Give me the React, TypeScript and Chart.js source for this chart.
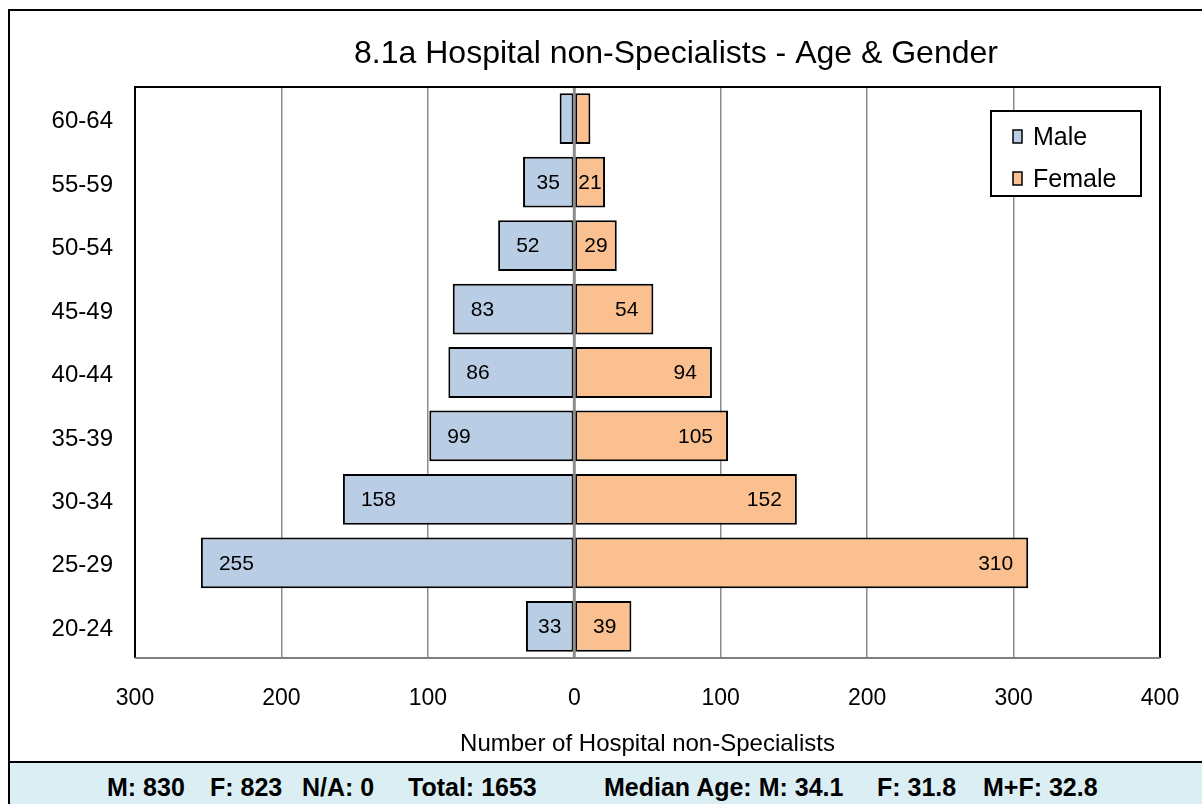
import React, { useEffect, useRef } from "react";
import { Chart, registerables } from "chart.js";

Chart.register(...registerables);

// ---- data ----
const AGE_GROUPS = ["20-24", "25-29", "30-34", "35-39", "40-44", "45-49", "50-54", "55-59", "60-64"];
const MALE = [33, 255, 158, 99, 86, 83, 52, 35, 10];
const FEMALE = [39, 310, 152, 105, 94, 54, 29, 21, 11];
const SERIES_NAMES = ["Male", "Female"];
const X_MIN = -300;
const X_MAX = 400;
const X_STEP = 100;
const CHART_TITLE = "8.1a Hospital non-Specialists - Age & Gender";
const X_TITLE = "Number of Hospital non-Specialists";
const FOOTER_ITEMS = ["M: 830", "F: 823", "N/A: 0", "Total: 1653", "Median Age: M: 34.1", "F: 31.8", "M+F: 32.8"];

// ---- style ----
const FONT = '"Liberation Sans", Arial, Helvetica, sans-serif';
const MALE_COLOR = "#B9CDE5";
const FEMALE_COLOR = "#FAC090";
const GRID_COLOR = "#8c8c8c";
const FOOTER_X = [107, 210, 302, 408, 604, 877, 983];

const overlayPlugin = {
  id: "overlay",
  afterDatasetsDraw(chart: any) {
    const { ctx, chartArea } = chart;
    const xs = chart.scales.x;
    const x0 = xs.getPixelForValue(0);
    ctx.save();
    // zero axis line
    ctx.strokeStyle = GRID_COLOR;
    ctx.lineWidth = 3;
    ctx.beginPath();
    ctx.moveTo(x0, chartArea.top);
    ctx.lineTo(x0, chartArea.bottom);
    ctx.stroke();

    // data labels
    ctx.font = `21px ${FONT}`;
    ctx.fillStyle = "#000";
    ctx.textBaseline = "middle";
    ctx.textAlign = "center";
    chart.data.datasets.forEach((ds: any, di: number) => {
      const meta = chart.getDatasetMeta(di);
      meta.data.forEach((bar: any, i: number) => {
        const v = ds.data[i];
        const txt = String(Math.abs(v));
        const { x, base, y } = bar.getProps(["x", "base", "y"], true);
        const left = Math.min(x, base);
        const right = Math.max(x, base);
        const w = right - left;
        const tw = ctx.measureText(txt).width;
        if (tw + 4 > w) return;
        const center = (left + right) / 2;
        const cx = v < 0 ? Math.min(left + 18 + tw / 2, center) : Math.max(right - 15 - tw / 2, center);
        ctx.fillText(txt, cx, y + 1);
      });
    });

    // plot area frame
    ctx.lineWidth = 2;
    ctx.strokeStyle = "#000";
    ctx.beginPath();
    ctx.moveTo(chartArea.left, chartArea.bottom);
    ctx.lineTo(chartArea.left, chartArea.top);
    ctx.lineTo(chartArea.right, chartArea.top);
    ctx.lineTo(chartArea.right, chartArea.bottom);
    ctx.stroke();
    ctx.strokeStyle = "#7f7f7f";
    ctx.beginPath();
    ctx.moveTo(chartArea.left, chartArea.bottom);
    ctx.lineTo(chartArea.right, chartArea.bottom);
    ctx.stroke();
    ctx.restore();
  },
  afterDraw(chart: any) {
    const { ctx, chartArea } = chart;
    ctx.save();
    // title
    ctx.font = `32px ${FONT}`;
    ctx.fillStyle = "#000";
    ctx.textAlign = "center";
    ctx.textBaseline = "middle";
    ctx.fillText(CHART_TITLE, 676, 54);

    // legend
    const bx = chartArea.right - 169;
    const by = chartArea.top + 24;
    const bw = 150;
    const bh = 85;
    ctx.fillStyle = "#fff";
    ctx.fillRect(bx, by, bw, bh);
    ctx.strokeStyle = "#000";
    ctx.lineWidth = 2;
    ctx.strokeRect(bx, by, bw, bh);
    ctx.font = `25px ${FONT}`;
    ctx.textAlign = "left";
    chart.data.datasets.forEach((ds: any, i: number) => {
      const cy = by + 25 + i * 42;
      ctx.fillStyle = ds.backgroundColor;
      ctx.fillRect(bx + 22, cy - 6, 9, 13);
      ctx.lineWidth = 1.5;
      ctx.strokeStyle = "#000";
      ctx.strokeRect(bx + 22, cy - 6, 9, 13);
      ctx.fillStyle = "#000";
      ctx.fillText(ds.label, bx + 42, cy + 2);
    });
    ctx.restore();
  },
};

export default function App() {
  const canvasRef = useRef<HTMLCanvasElement | null>(null);

  useEffect(() => {
    const canvas = canvasRef.current;
    if (!canvas) return;
    const chart = new Chart(canvas, {
      type: "bar",
      data: {
        labels: AGE_GROUPS,
        datasets: [
          {
            label: SERIES_NAMES[0],
            data: MALE.map((v) => -v),
            backgroundColor: MALE_COLOR,
            borderColor: "#000",
            borderWidth: 2,
            borderSkipped: false,
          },
          {
            label: SERIES_NAMES[1],
            data: FEMALE,
            backgroundColor: FEMALE_COLOR,
            borderColor: "#000",
            borderWidth: 2,
            borderSkipped: false,
          },
        ],
      },
      options: {
        indexAxis: "y",
        responsive: false,
        animation: false,
        layout: { padding: { top: 87, left: 10, right: 42, bottom: 0 } },
        datasets: { bar: { barPercentage: 0.8, categoryPercentage: 1 } },
        plugins: {
          legend: { display: false },
          title: { display: false },
          tooltip: { enabled: false },
        },
        scales: {
          x: {
            type: "linear",
            min: X_MIN,
            max: X_MAX,
            stacked: true,
            border: { display: false },
            grid: {
              drawTicks: false,
              lineWidth: 1.5,
              color: (c: any) => {
                const v = c.tick ? c.tick.value : null;
                if (v === null || v === 0 || v === X_MIN || v === X_MAX) return "rgba(0,0,0,0)";
                return GRID_COLOR;
              },
            },
            ticks: {
              stepSize: X_STEP,
              padding: 27,
              color: "#000",
              font: { family: FONT, size: 23 },
              callback: (v: any) => String(Math.abs(Number(v))),
            },
            title: {
              display: true,
              text: X_TITLE,
              color: "#000",
              font: { family: FONT, size: 24 },
              padding: { top: 0, bottom: 3 },
            },
            afterFit: (s: any) => {
              s.height = 104;
              s.paddingLeft = 0;
              s.paddingRight = 0;
            },
          },
          y: {
            stacked: true,
            reverse: true,
            border: { display: false },
            grid: { display: false, drawTicks: false },
            ticks: {
              padding: 22,
              labelOffset: 3,
              color: "#000",
              font: { family: FONT, size: 24 },
            },
            afterFit: (s: any) => {
              s.width = 125;
              s.paddingTop = 0;
              s.paddingBottom = 0;
            },
          },
        },
      },
      plugins: [overlayPlugin],
    } as any);
    return () => chart.destroy();
  }, []);

  return (
    <div style={{ position: "absolute", left: 0, top: 0, width: 1202, height: 804, overflow: "hidden", background: "#fff" }}>
      <div
        style={{
          position: "absolute",
          left: 8,
          top: 9,
          width: 1220,
          height: 820,
          border: "2px solid #000",
          boxSizing: "border-box",
        }}
      />
      <canvas
        ref={canvasRef}
        width={1202}
        height={762}
        style={{ position: "absolute", left: 0, top: 0, display: "block" }}
      />
      <div
        style={{
          position: "absolute",
          left: 8,
          top: 761,
          width: 1220,
          height: 60,
          background: "#DBEEF4",
          borderTop: "2px solid #000",
          borderLeft: "2px solid #000",
          boxSizing: "border-box",
        }}
      />
      {FOOTER_ITEMS.map((t, i) => (
        <div
          key={i}
          style={{
            position: "absolute",
            left: FOOTER_X[i],
            top: 773,
            fontFamily: FONT,
            fontWeight: "bold",
            fontSize: 25,
            lineHeight: "28px",
            whiteSpace: "pre",
            color: "#000",
          }}
        >
          {t}
        </div>
      ))}
    </div>
  );
}
